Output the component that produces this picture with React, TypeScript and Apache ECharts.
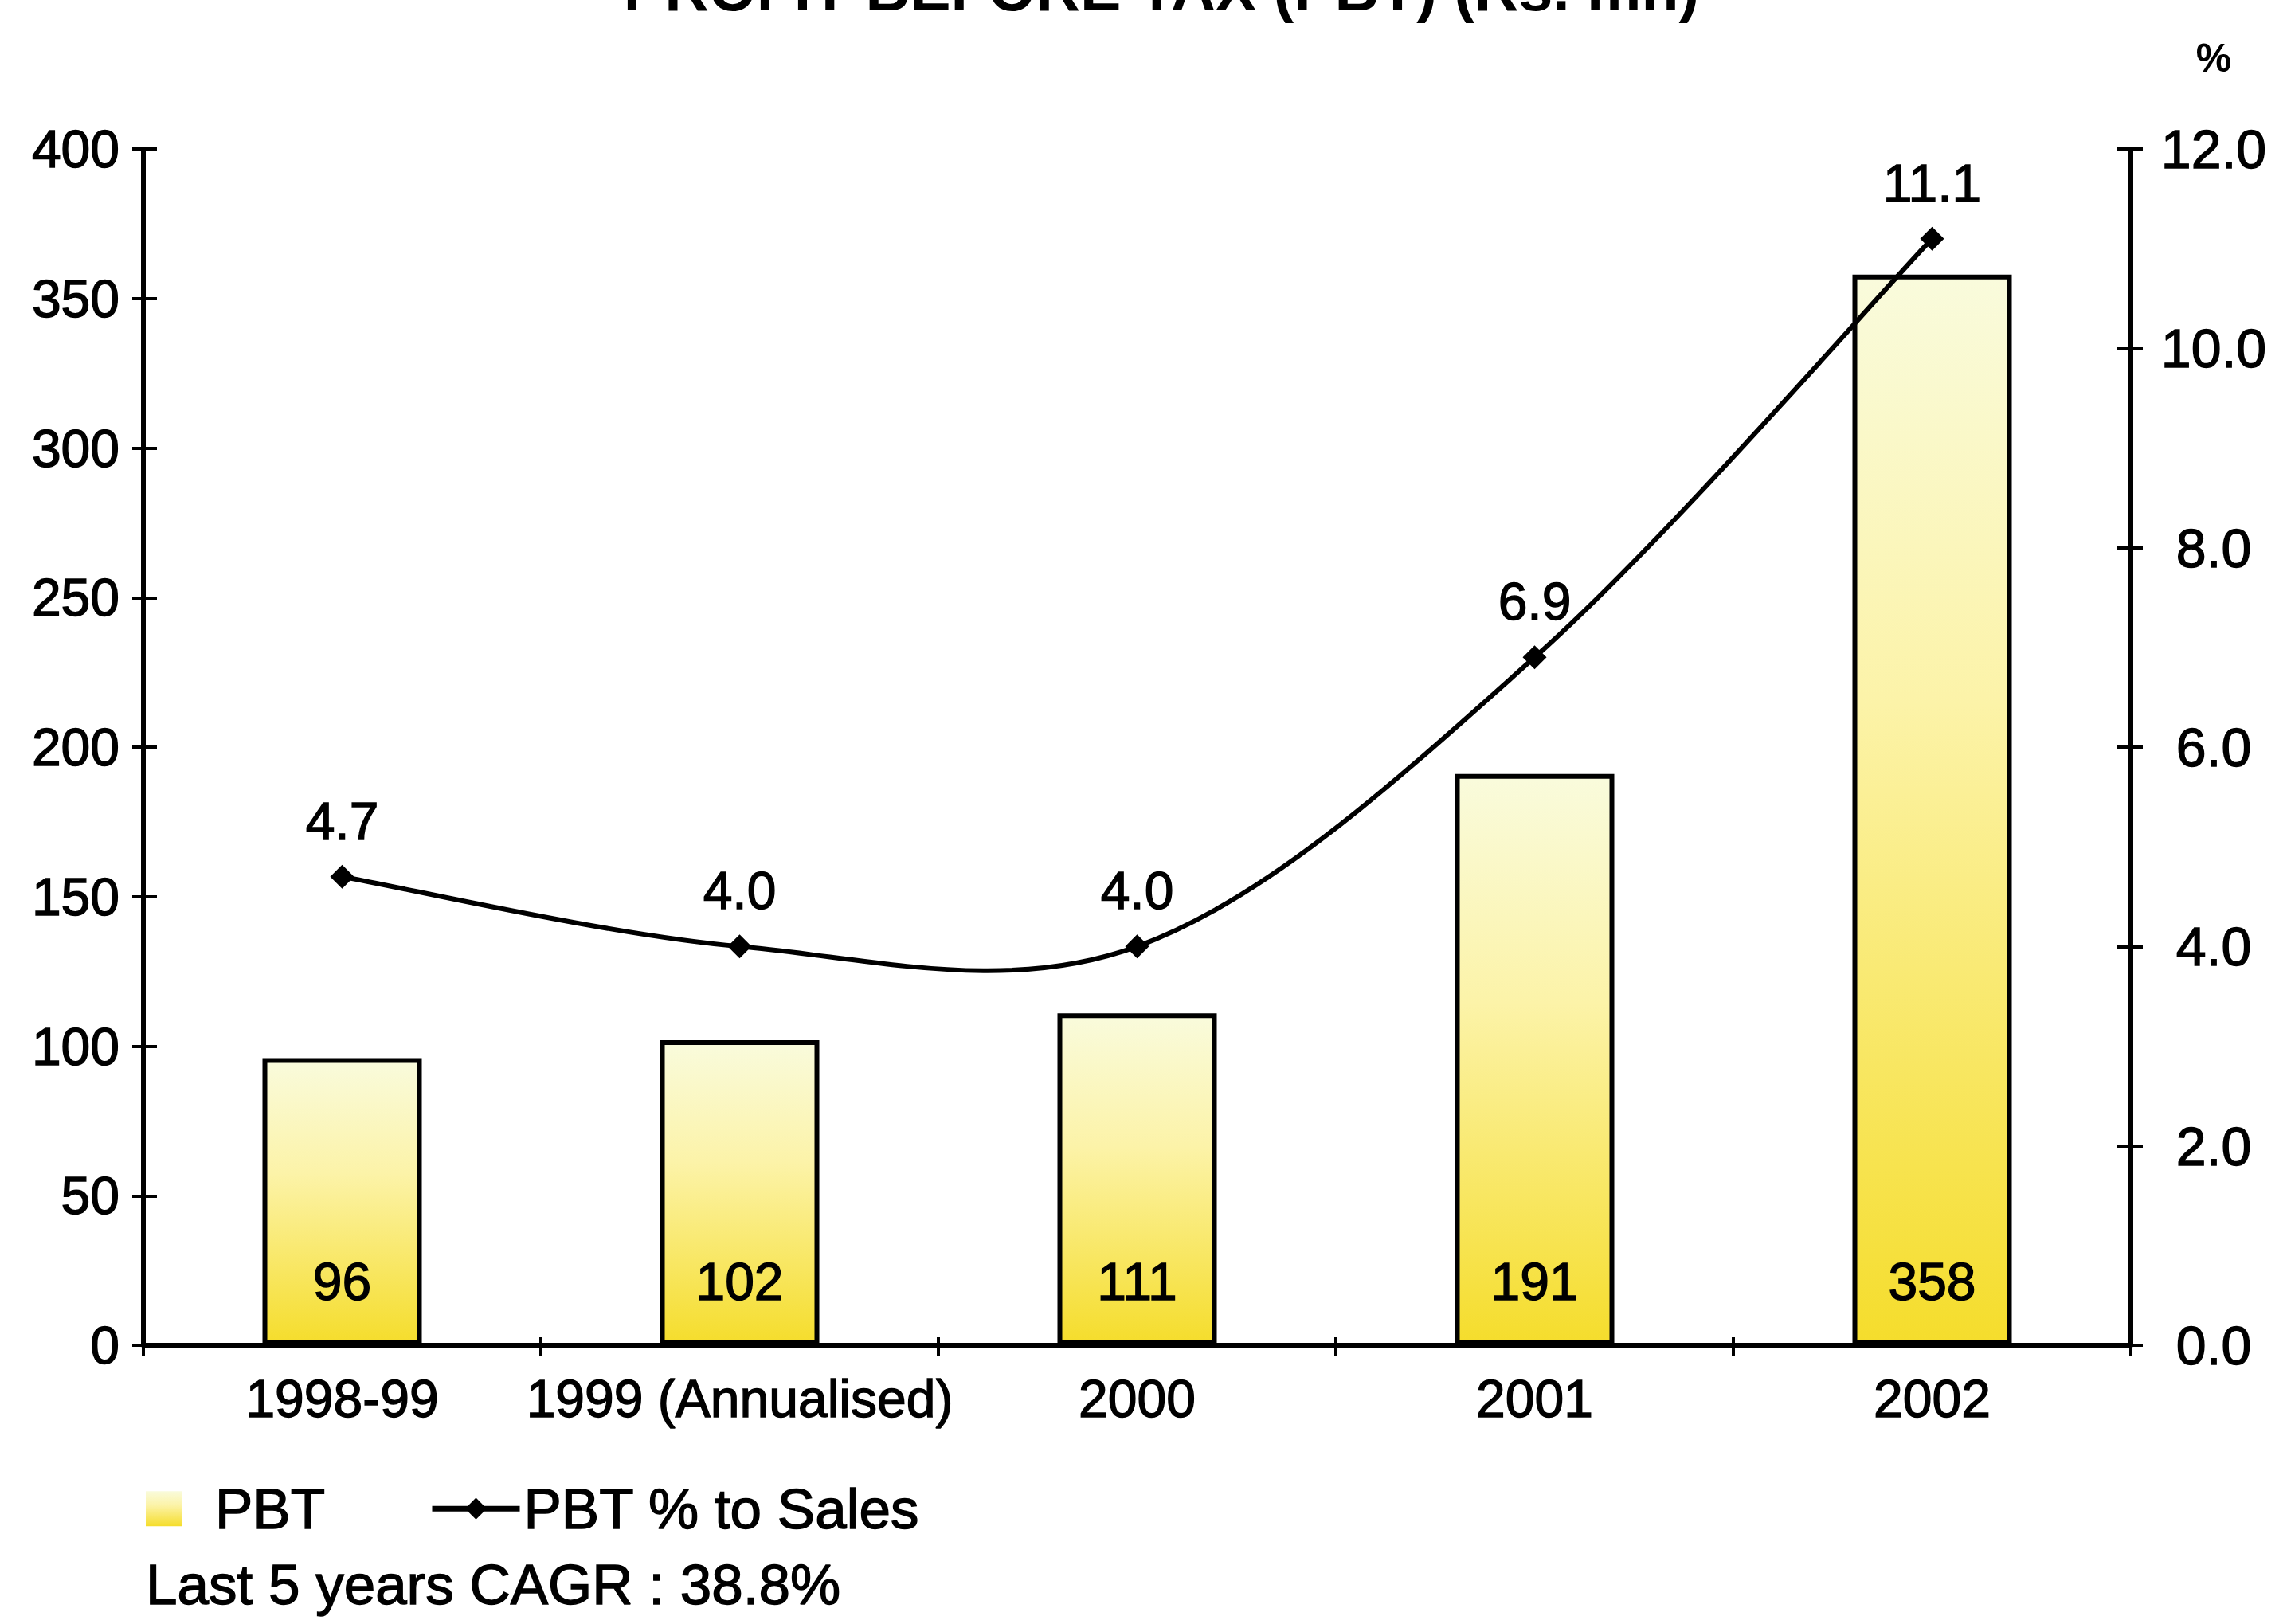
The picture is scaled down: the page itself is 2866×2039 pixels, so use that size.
import React, { useEffect, useRef } from 'react';
import * as echarts from 'echarts';

const categories = ['1998-99', '1999 (Annualised)', '2000', '2001', '2002'];
const pbtValues = [96, 102, 111, 191, 358];
const pbtPctToSales = [4.7, 4.0, 4.0, 6.9, 11.1];
const seriesNames = ['PBT', 'PBT % to Sales'];
const leftAxisRange = [0, 400, 50];
const rightAxisRange = [0, 12, 2];
const titleText = 'PROFIT BEFORE TAX (PBT) (Rs. mn)';
const noteText = 'Last 5 years CAGR : 38.8%';
const rightAxisName = '%';

const FONT = '"Liberation Sans", Arial, Helvetica, sans-serif';
const heavy = { textBorderColor: '#000', textBorderWidth: 1.4 };

export default function App() {
  const ref = useRef<HTMLDivElement>(null);

  useEffect(() => {
    if (!ref.current) return;
    const chart = echarts.init(ref.current, undefined, { renderer: 'svg' });
    const barGradient = new echarts.graphic.LinearGradient(0, 0, 0, 1, [
      { offset: 0, color: '#F9FBDC' },
      { offset: 0.4, color: '#FCF3A8' },
      { offset: 1, color: '#F5DD2C' },
    ]);
    const axisLineStyle = { color: '#000', width: 6 };
    const tickLineStyle = { color: '#000', width: 4 };
    const n = pbtPctToSales.length;

    // Catmull-Rom style smoothing (like the office chart smoothing), drawn through the axes' scales
    const renderCurve = (params: any, api: any) => {
      const i = params.dataIndex;
      if (i >= n - 1) return null;
      const pt = (k: number) => {
        const kk = Math.max(0, Math.min(n - 1, k));
        return api.coord([kk, pbtPctToSales[kk]]);
      };
      const p0 = pt(i - 1);
      const p1 = pt(i);
      const p2 = pt(i + 1);
      const p3 = pt(i + 2);
      const t = 1 / 6;
      return {
        type: 'bezierCurve',
        shape: {
          x1: p1[0],
          y1: p1[1],
          cpx1: p1[0] + (p2[0] - p0[0]) * t,
          cpy1: p1[1] + (p2[1] - p0[1]) * t,
          cpx2: p2[0] - (p3[0] - p1[0]) * t,
          cpy2: p2[1] - (p3[1] - p1[1]) * t,
          x2: p2[0],
          y2: p2[1],
        },
        style: { stroke: '#000', lineWidth: 6, fill: null },
        silent: true,
      };
    };

    const option: any = {
      animation: false,
      backgroundColor: '#ffffff',
      textStyle: { fontFamily: FONT, color: '#000' },
      grid: { left: 180, right: 191, top: 187, bottom: 350, containLabel: false },
      xAxis: [
        {
          type: 'category',
          data: categories,
          position: 'bottom',
          axisLine: { show: true, lineStyle: axisLineStyle },
          axisTick: { show: true, length: 14, lineStyle: tickLineStyle },
          axisLabel: { fontSize: 66, color: '#000', margin: 34, interval: 0, fontFamily: FONT, ...heavy },
          splitLine: { show: false },
        },
        {
          type: 'category',
          data: categories,
          position: 'bottom',
          axisLine: { show: false },
          axisTick: { show: true, inside: true, length: 10, lineStyle: tickLineStyle },
          axisLabel: { show: false },
          splitLine: { show: false },
        },
      ],
      yAxis: [
        {
          type: 'value',
          min: leftAxisRange[0],
          max: leftAxisRange[1],
          interval: leftAxisRange[2],
          position: 'left',
          axisLine: { show: true, lineStyle: axisLineStyle },
          axisTick: { show: true, length: 14, lineStyle: tickLineStyle },
          axisLabel: { fontSize: 66, color: '#000', margin: 30, fontFamily: FONT, ...heavy },
          splitLine: { show: false },
        },
        {
          type: 'value',
          min: rightAxisRange[0],
          max: rightAxisRange[1],
          interval: rightAxisRange[2],
          position: 'right',
          name: rightAxisName,
          nameLocation: 'end',
          nameGap: 89,
          nameTextStyle: {
            fontSize: 50,
            fontWeight: 'bold',
            color: '#000',
            fontFamily: FONT,
            padding: [0, 0, 0, 208],
          },
          axisLine: { show: true, lineStyle: axisLineStyle },
          axisTick: { show: true, length: 15, lineStyle: tickLineStyle },
          axisLabel: {
            fontSize: 68,
            color: '#000',
            margin: 104,
            align: 'center',
            fontFamily: FONT,
            ...heavy,
            formatter: (v: number) => v.toFixed(1),
          },
          splitLine: { show: false },
        },
        {
          type: 'value',
          min: leftAxisRange[0],
          max: leftAxisRange[1],
          interval: leftAxisRange[2],
          position: 'left',
          axisLine: { show: false },
          axisTick: { show: true, inside: true, length: 17, lineStyle: tickLineStyle },
          axisLabel: { show: false },
          splitLine: { show: false },
        },
        {
          type: 'value',
          min: rightAxisRange[0],
          max: rightAxisRange[1],
          interval: rightAxisRange[2],
          position: 'right',
          axisLine: { show: false },
          axisTick: { show: true, inside: true, length: 18, lineStyle: tickLineStyle },
          axisLabel: { show: false },
          splitLine: { show: false },
        },
      ],
      legend: [
        {
          data: [seriesNames[0]],
          left: 183,
          top: 1858,
          padding: 0,
          icon: 'rect',
          itemWidth: 46,
          itemHeight: 44,
          itemStyle: { borderWidth: 0 },
          textStyle: { fontSize: 71, color: '#000', fontFamily: FONT, padding: [0, 0, 0, 36], ...heavy },
        },
        {
          data: [seriesNames[1]],
          left: 539,
          top: 1858,
          padding: 0,
          itemWidth: 110,
          itemHeight: 34,
          lineStyle: { width: 7, color: '#000', opacity: 1 },
          itemStyle: { color: '#000', opacity: 1 },
          textStyle: { fontSize: 71, color: '#000', fontFamily: FONT, ...heavy },
        },
      ],
      graphic: [
        {
          type: 'text',
          x: 1458,
          y: 24,
          style: {
            text: titleText,
            fontSize: 77,
            fontWeight: 'bold',
            fontFamily: FONT,
            align: 'center',
            verticalAlign: 'bottom',
            fill: '#000',
          },
        },
        {
          type: 'text',
          x: 183,
          y: 1989,
          style: {
            text: noteText,
            fontSize: 71,
            fontFamily: FONT,
            align: 'left',
            verticalAlign: 'middle',
            fill: '#000',
            stroke: '#000',
            lineWidth: 1.4,
          },
        },
      ],
      series: [
        {
          name: seriesNames[0],
          type: 'bar',
          xAxisIndex: 0,
          yAxisIndex: 0,
          data: pbtValues,
          barWidth: 200,
          itemStyle: { color: barGradient, borderColor: '#000', borderWidth: 6 },
          label: {
            show: true,
            position: 'insideBottom',
            distance: 47,
            fontSize: 66,
            color: '#000',
            fontFamily: FONT,
            ...heavy,
          },
        },
        {
          type: 'custom',
          xAxisIndex: 0,
          yAxisIndex: 1,
          data: pbtPctToSales.map((v, i) => [i, v]),
          encode: { x: 0, y: 1 },
          renderItem: renderCurve,
          silent: true,
          z: 4,
        },
        {
          name: seriesNames[1],
          type: 'line',
          xAxisIndex: 0,
          yAxisIndex: 1,
          data: pbtPctToSales,
          smooth: false,
          symbol: 'diamond',
          symbolSize: 30,
          lineStyle: { color: '#000', width: 6, opacity: 0 },
          itemStyle: { color: '#000' },
          label: {
            show: true,
            position: 'top',
            distance: 22,
            fontSize: 66,
            color: '#000',
            fontFamily: FONT,
            ...heavy,
            formatter: (p: any) => Number(p.value).toFixed(1),
          },
          z: 5,
        },
      ],
    };

    chart.setOption(option);
    return () => {
      chart.dispose();
    };
  }, []);

  return (
    <div
      ref={ref}
      style={{ position: 'fixed', left: 0, top: 0, width: 2866, height: 2039, background: '#fff' }}
    />
  );
}
